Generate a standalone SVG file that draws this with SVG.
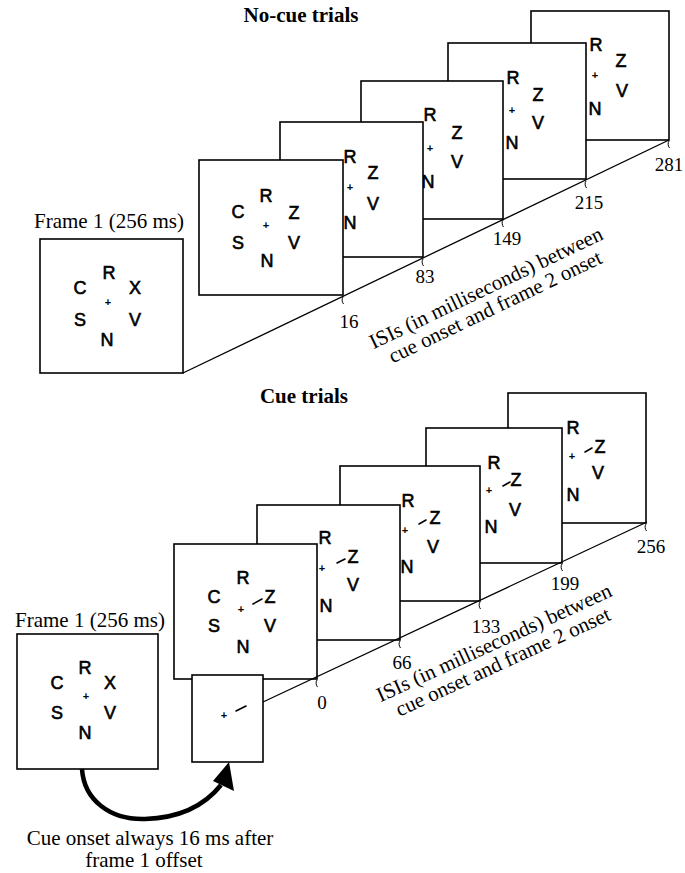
<svg xmlns="http://www.w3.org/2000/svg" width="685" height="873" viewBox="0 0 685 873">
<style>
.fr{fill:#fff;stroke:#000;stroke-width:1.6}
.L{font-family:"Liberation Sans",Arial,sans-serif;font-size:18px;text-anchor:middle;fill:#000;stroke:#000;stroke-width:0.6}
.P{font-family:"Liberation Sans",Arial,sans-serif;font-size:11px;font-weight:bold;text-anchor:middle;fill:#000}
.S{font-family:"Liberation Serif","Times New Roman",serif;font-size:21px;fill:#000}
.C{text-anchor:middle}
.B{font-weight:bold}
.N{font-family:"Liberation Serif","Times New Roman",serif;font-size:19px;text-anchor:middle;fill:#000}
.ln{fill:none;stroke:#000;stroke-width:1.3}
.tk{fill:none;stroke:#000;stroke-width:1}
.cue{fill:none;stroke:#000;stroke-width:1.6;stroke-linecap:round}
.arr{fill:none;stroke:#000;stroke-width:4.5}
</style>
<rect width="685" height="873" fill="#fff"/>

<text class="S C B" x="301" y="22">No-cue trials</text>
<text class="S C B" x="304" y="403">Cue trials</text>

<!-- ===== Top (no-cue) ===== -->
<g id="nc-281" transform="translate(531,11)">
<rect class="fr" x="0" y="0" width="138" height="129"/>
<text class="L" x="38" y="56">C</text><text class="L" x="65" y="40">R</text><text class="L" x="90" y="56">Z</text>
<text class="P" x="64" y="68">+</text>
<text class="L" x="38" y="86">S</text><text class="L" x="91" y="86">V</text><text class="L" x="64" y="104">N</text>
</g>
<g id="nc-215" transform="translate(448,43)">
<rect class="fr" x="0" y="0" width="138" height="136"/>
<text class="L" x="38" y="57">C</text><text class="L" x="65" y="41">R</text><text class="L" x="90" y="58">Z</text>
<text class="P" x="64" y="71">+</text>
<text class="L" x="38" y="86">S</text><text class="L" x="90" y="86">V</text><text class="L" x="64" y="106">N</text>
</g>
<g id="nc-149" transform="translate(361,81)">
<rect class="fr" x="0" y="0" width="142" height="138"/>
<text class="L" x="40" y="57">C</text><text class="L" x="69" y="40">R</text><text class="L" x="96" y="58">Z</text>
<text class="P" x="69" y="71">+</text>
<text class="L" x="40" y="87">S</text><text class="L" x="96" y="87">V</text><text class="L" x="67" y="107">N</text>
</g>
<g id="nc-83" transform="translate(280,122)">
<rect class="fr" x="0" y="0" width="143" height="135"/>
<text class="L" x="40" y="57">C</text><text class="L" x="70" y="41">R</text><text class="L" x="93" y="57">Z</text>
<text class="P" x="70" y="69">+</text>
<text class="L" x="40" y="88">S</text><text class="L" x="93" y="88">V</text><text class="L" x="70" y="107">N</text>
</g>
<g id="nc-16" transform="translate(199,160)">
<rect class="fr" x="0" y="0" width="144" height="135"/>
<text class="L" x="39" y="58">C</text><text class="L" x="67" y="42">R</text><text class="L" x="95" y="59">Z</text>
<text class="P" x="67" y="69">+</text>
<text class="L" x="39" y="89">S</text><text class="L" x="95" y="89">V</text><text class="L" x="68" y="107">N</text>
</g>
<g id="nc-frame1" transform="translate(40,239)">
<rect class="fr" x="0" y="0" width="143" height="134"/>
<text class="L" x="40" y="55">C</text><text class="L" x="69" y="40">R</text><text class="L" x="95" y="55">X</text>
<text class="P" x="68" y="67">+</text>
<text class="L" x="40" y="87">S</text><text class="L" x="95" y="87">V</text><text class="L" x="67" y="107">N</text>
</g>
<text class="S C" x="109" y="228">Frame 1 (256 ms)</text>

<!-- ===== Bottom (cue) ===== -->
<g id="c-256" transform="translate(508,393)">
<rect class="fr" x="0" y="0" width="138" height="130"/>
<text class="L" x="38" y="57">C</text><text class="L" x="65" y="41">R</text><text class="L" x="92" y="60">Z</text>
<path class="cue" d="M77 59 L84 55"/>
<text class="P" x="64" y="67">+</text>
<text class="L" x="38" y="86">S</text><text class="L" x="90" y="86">V</text><text class="L" x="65" y="108">N</text>
</g>
<g id="c-199" transform="translate(426,428)">
<rect class="fr" x="0" y="0" width="136" height="135"/>
<text class="L" x="38" y="58">C</text><text class="L" x="68" y="41">R</text><text class="L" x="90" y="58">Z</text>
<path class="cue" d="M77 58 L84 54"/>
<text class="P" x="63" y="66">+</text>
<text class="L" x="38" y="88">S</text><text class="L" x="89" y="88">V</text><text class="L" x="65" y="105">N</text>
</g>
<g id="c-133" transform="translate(340,466)">
<rect class="fr" x="0" y="0" width="140" height="135"/>
<text class="L" x="39" y="58">C</text><text class="L" x="68" y="41">R</text><text class="L" x="95" y="58">Z</text>
<path class="cue" d="M79 58 L86 54"/>
<text class="P" x="65" y="68">+</text>
<text class="L" x="39" y="87">S</text><text class="L" x="93" y="87">V</text><text class="L" x="67" y="107">N</text>
</g>
<g id="c-66" transform="translate(257,505)">
<rect class="fr" x="0" y="0" width="143" height="135"/>
<text class="L" x="40" y="58">C</text><text class="L" x="68" y="39">R</text><text class="L" x="96" y="58">Z</text>
<path class="cue" d="M80 58 L88 54"/>
<text class="P" x="65" y="67">+</text>
<text class="L" x="40" y="86">S</text><text class="L" x="96" y="86">V</text><text class="L" x="69" y="107">N</text>
</g>
<g id="c-0" transform="translate(174,544)">
<rect class="fr" x="0" y="0" width="143" height="135"/>
<text class="L" x="40" y="59">C</text><text class="L" x="69" y="40">R</text><text class="L" x="96" y="59">Z</text>
<path class="cue" d="M79 60 L88 55"/>
<text class="P" x="67" y="69">+</text>
<text class="L" x="40" y="88">S</text><text class="L" x="96" y="88">V</text><text class="L" x="69" y="109">N</text>
</g>
<g id="c-cue" transform="translate(192,675)">
<rect class="fr" x="0" y="0" width="71" height="87"/>
<text class="P" x="32" y="44">+</text>
<path class="cue" d="M44 36 L54 31"/>
</g>
<g id="c-frame1" transform="translate(17,634)">
<rect class="fr" x="0" y="0" width="141" height="135"/>
<text class="L" x="40" y="55">C</text><text class="L" x="68" y="40">R</text><text class="L" x="93" y="55">X</text>
<text class="P" x="69" y="66">+</text>
<text class="L" x="40" y="85">S</text><text class="L" x="93" y="85">V</text><text class="L" x="68" y="105">N</text>
</g>
<text class="S C" x="90" y="627">Frame 1 (256 ms)</text>

<!-- ===== Connectors ===== -->
<g id="connectors">
<path class="ln" d="M183 373 L669 140"/>
<path class="tk" d="M343 297 c-1.5 2 -1 5 0.5 7 M423 259 c-1.5 2 -1 5 0.5 7 M503 220 c-1.5 2 -1 5 0.5 7 M586 181 c-1.5 2 -1 5 0.5 7 M669 141 c-1.5 2 -1 5 0.5 7"/>
<path class="ln" d="M263 702 L647 522"/>
<path class="tk" d="M317 680 c-1.5 2 -1 5 0.5 7 M400 641 c-1.5 2 -1 5 0.5 7 M480 602 c-1.5 2 -1 5 0.5 7 M562 564 c-1.5 2 -1 5 0.5 7 M646 524 c-1.5 2 -1 5 0.5 7"/>
<path class="arr" d="M82 769 C84 800 110 820 145 819 C180 818 205 805 221 785"/>
<polygon points="229,762 213,781 234,791" fill="#000"/>
</g>

<!-- ===== Labels ===== -->
<text class="N" x="349" y="328">16</text>
<text class="N" x="425" y="283">83</text>
<text class="N" x="507" y="245">149</text>
<text class="N" x="589" y="209">215</text>
<text class="N" x="669" y="171">281</text>
<text class="N" x="322" y="709">0</text>
<text class="N" x="402" y="669">66</text>
<text class="N" x="486" y="633">133</text>
<text class="N" x="565" y="590">199</text>
<text class="N" x="651" y="553">256</text>

<g transform="translate(489,294) rotate(-25.6)">
<text class="S C" x="0" y="0">ISIs (in milliseconds) between</text>
<text class="S C" x="0" y="21">cue onset and frame 2 onset</text>
</g>
<g transform="translate(497,649) rotate(-24.6)">
<text class="S C" x="0" y="0">ISIs (in milliseconds) between</text>
<text class="S C" x="0" y="21">cue onset and frame 2 onset</text>
</g>

<text class="S C" x="150" y="845">Cue onset always 16 ms after</text>
<text class="S C" x="144" y="867">frame 1 offset</text>
</svg>
